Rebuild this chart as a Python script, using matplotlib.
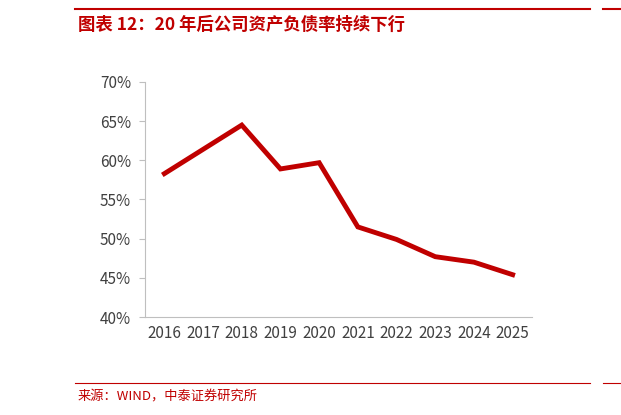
import matplotlib
matplotlib.use("Agg")
import matplotlib.pyplot as plt

plt.rcParams['font.family'] = ['Noto Sans CJK SC', 'DejaVu Sans']

years = ["2016", "2017", "2018", "2019", "2020", "2021", "2022", "2023", "2024", "2025"]
debt_ratio = [58.3, 61.4, 64.5, 58.9, 59.7, 51.5, 49.9, 47.7, 47.0, 45.4]
yticks = [40, 45, 50, 55, 60, 65, 70]

W, H = 621, 415
fig = plt.figure(figsize=(W/100, H/100), dpi=100)
ax = fig.add_axes([145/W, 1-317/H, (532-145)/W, (317-82)/H])
x = range(len(years))
ax.plot(x, debt_ratio, color='#C00000', lw=3.5, solid_joinstyle='miter')
ax.set_ylim(40, 70)
ax.set_xlim(-0.5, len(years)-0.5)
ax.set_yticks(yticks)
ax.set_yticklabels([f"{v}%" for v in yticks], fontsize=11, color='#404040')
ax.set_xticks(list(x))
ax.set_xticklabels(years, fontsize=11, color='#404040')
for s in ['top', 'right']:
    ax.spines[s].set_visible(False)
for s in ['left', 'bottom']:
    ax.spines[s].set_color('#BFBFBF')
ax.tick_params(axis='both', length=0, pad=6)
ax.tick_params(axis='y', length=4, color='#BFBFBF', direction='out')

red = '#C00000'
fig.add_artist(plt.Line2D([75/W, 590/W], [1-9/H, 1-9/H], color=red, lw=1.5))
fig.add_artist(plt.Line2D([603/W, 1], [1-9/H, 1-9/H], color=red, lw=1.5))
fig.add_artist(plt.Line2D([75/W, 590/W], [1-383/H, 1-383/H], color=red, lw=0.8))
fig.add_artist(plt.Line2D([603/W, 1], [1-383/H, 1-383/H], color=red, lw=0.8))
fig.text(78/W, 1-25/H, "图表 12：20 年后公司资产负债率持续下行", color=red, fontsize=12.5,
         fontweight='bold', style='italic', va='center')
fig.text(78/W, 1-397/H, "来源：WIND，中泰证券研究所", color=red, fontsize=9.5, va='center')
fig.savefig("out.png", dpi=100)
